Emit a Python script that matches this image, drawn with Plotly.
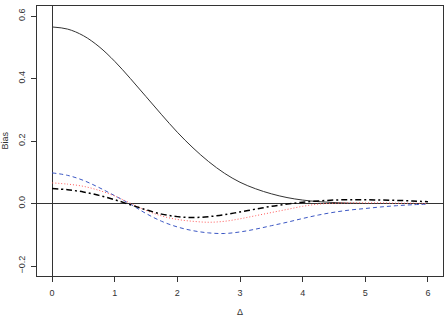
import plotly.graph_objects as go

delta = [0, 0.25, 0.5, 0.75, 1, 1.25, 1.5, 1.75, 2, 2.25, 2.5, 2.75, 3,
         3.25, 3.5, 3.75, 4, 4.25, 4.5, 4.75, 5, 5.25, 5.5, 5.75, 6]

bias_solid = [0.565, 0.558, 0.537, 0.502, 0.455, 0.400, 0.342, 0.284, 0.228,
              0.178, 0.134, 0.097, 0.068, 0.047, 0.031, 0.019, 0.011, 0.006,
              0.003, 0.001, 0.0, 0.0, 0.0, 0.0, 0.0]
bias_blue = [0.098, 0.090, 0.074, 0.051, 0.025, -0.002, -0.032, -0.057, -0.075,
             -0.087, -0.094, -0.096, -0.091, -0.082, -0.071, -0.060, -0.048,
             -0.037, -0.028, -0.021, -0.016, -0.011, -0.007, -0.004, -0.002]
bias_red = [0.066, 0.062, 0.055, 0.042, 0.024, 0.001, -0.022, -0.040, -0.051,
            -0.057, -0.060, -0.057, -0.049, -0.039, -0.029, -0.019, -0.009,
            -0.002, 0.001, 0.002, 0.002, 0.002, 0.001, 0.001, 0.0]
bias_dashdot = [0.048, 0.044, 0.037, 0.026, 0.012, -0.004, -0.020, -0.034,
                -0.042, -0.045, -0.042, -0.036, -0.027, -0.018, -0.009, -0.002,
                0.004, 0.008, 0.011, 0.012, 0.012, 0.011, 0.010, 0.008, 0.006]

x_ticks = [0, 1, 2, 3, 4, 5, 6]
y_ticks = [-0.2, 0.0, 0.2, 0.4, 0.6]
y_tick_text = ["\u22120.2", "0.0", "0.2", "0.4", "0.6"]

fig = go.Figure()
fig.add_trace(go.Scatter(x=delta, y=bias_solid, mode="lines",
                         line=dict(color="#333333", width=1, shape="spline")))
fig.add_trace(go.Scatter(x=delta, y=bias_blue, mode="lines",
                         line=dict(color="#3b57c4", width=1, dash="4px,3px", shape="spline")))
fig.add_trace(go.Scatter(x=delta, y=bias_red, mode="lines",
                         line=dict(color="#ff5a5a", width=1, dash="1px,2px", shape="spline")))
fig.add_trace(go.Scatter(x=delta, y=bias_dashdot, mode="lines",
                         line=dict(color="black", width=1.5, dash="6px,3px,2px,3px", shape="spline")))

axis_font = dict(family="Liberation Sans, Arial, sans-serif", size=9, color="#333333")

fig.update_layout(
    width=445, height=320,
    margin=dict(l=37, r=2, t=6, b=44),
    paper_bgcolor="white", plot_bgcolor="white",
    showlegend=False,
    xaxis=dict(range=[-0.24, 6.24], tickvals=x_ticks, ticks="outside", ticklen=5,
               tickcolor="#333333", showline=True, linecolor="#333333", linewidth=1,
               mirror=True, showgrid=False, zeroline=True, zerolinecolor="#333333",
               zerolinewidth=1, tickfont=axis_font, ticklabelstandoff=3),
    yaxis=dict(range=[-0.232, 0.632], tickvals=y_ticks, ticktext=y_tick_text,
               ticks="outside", ticklen=5, tickangle=-90,
               tickcolor="#333333", showline=True, linecolor="#333333", linewidth=1,
               mirror=True, showgrid=False, zeroline=True, zerolinecolor="#333333",
               zerolinewidth=1, tickfont=axis_font, ticklabelstandoff=2),
    annotations=[
        dict(text="\u0394", xref="paper", yref="paper", x=0.5, y=-0.135,
             showarrow=False, font=axis_font, xanchor="center", yanchor="middle"),
        dict(text="Bias", xref="paper", yref="paper", x=-0.08, y=0.5,
             showarrow=False, font=axis_font, textangle=-90,
             xanchor="center", yanchor="middle"),
    ],
)

fig.write_html("out.html")
